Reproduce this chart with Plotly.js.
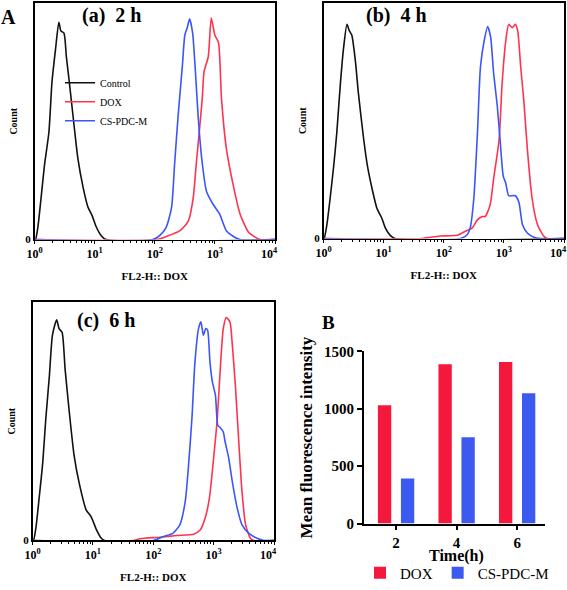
<!DOCTYPE html>
<html>
<head>
<meta charset="utf-8">
<script src="https://cdn.plot.ly/plotly-3.0.1.min.js"></script>
<style>html,body{margin:0;padding:0;background:#fff}#chart{width:567px;height:590px}</style>
</head>
<body>
<div id="chart"></div>
<script>
// ---- Flow cytometry histograms: x = log10(FL2-H), y = relative count ----
// Panel (a) 2 h
const aCtrlLog = [0, 0.017, 0.056, 0.11, 0.167, 0.24, 0.29, 0.35, 0.405, 0.44, 0.49, 0.53, 0.58, 0.67, 0.72, 0.81, 0.89, 0.96, 1.03, 1.11, 1.19, 4];
const aCtrlCnt = [0, 0, 5.7, 19.5, 34.8, 50, 73, 88.5, 101, 97, 96, 85, 73, 50, 38, 24, 15, 11, 5.7, 1.8, 0, 0];
const aDoxLog = [0, 2.03, 2.19, 2.42, 2.56, 2.64, 2.69, 2.75, 2.79, 2.82, 2.89, 2.94, 3.0, 3.06, 3.11, 3.19, 3.28, 3.42, 3.56, 3.69, 3.75, 4];
const aDoxCnt = [0, 0, 1.4, 4.1, 8.7, 19.5, 35, 53, 65.5, 78, 85, 103, 95, 91.6, 65.5, 42.5, 28.7, 11.8, 3.4, 0.8, 0, 0];
const aPdcLog = [0, 1.97, 2.08, 2.19, 2.28, 2.33, 2.39, 2.46, 2.5, 2.54, 2.58, 2.63, 2.67, 2.72, 2.78, 2.86, 2.97, 3.08, 3.19, 3.31, 3.42, 4];
const aPdcCnt = [0, 0, 1.8, 5.7, 15, 35, 58, 81, 95, 98.5, 102.6, 96, 81, 58, 38, 22.5, 16.4, 11.8, 4.1, 1.4, 0, 0];
// Panel (b) 4 h
const bCtrlLog = [0, 0.01, 0.056, 0.11, 0.17, 0.22, 0.28, 0.33, 0.39, 0.43, 0.47, 0.53, 0.58, 0.67, 0.73, 0.81, 0.89, 0.97, 1.03, 1.11, 1.19, 4];
const bCtrlCnt = [0, 0, 6.4, 18.7, 34, 49, 72, 88, 100, 97, 95, 83, 68, 46, 34, 23, 14, 9.5, 4.9, 1.5, 0, 0];
const bDoxLog = [0, 1.64, 1.78, 1.94, 2.22, 2.36, 2.47, 2.56, 2.64, 2.69, 2.77, 2.83, 2.92, 2.97, 3.03, 3.08, 3.14, 3.19, 3.23, 3.28, 3.33, 3.39, 3.47, 3.56, 3.67, 3.72, 4];
const bDoxCnt = [0, 0, 0.6, 1.2, 1.5, 3.4, 4.9, 8.7, 10.3, 10.3, 15.6, 28, 46, 72, 92, 100, 98.5, 100, 97, 80, 65, 42, 18.7, 6.4, 0.9, 0, 0];
const bPdcLog = [0, 2.28, 2.39, 2.44, 2.5, 2.56, 2.61, 2.67, 2.73, 2.78, 2.83, 2.89, 2.94, 2.99, 3.03, 3.08, 3.14, 3.19, 3.25, 3.31, 3.39, 3.5, 3.61, 4];
const bPdcCnt = [0, 0, 1.8, 4.9, 18.7, 49, 80, 92, 99, 94, 77, 62, 45, 29, 26, 20, 20, 20, 17, 6.4, 2.6, 0.6, 0, 0];
// Panel (c) 6 h
const cCtrlLog = [0, 0.017, 0.056, 0.11, 0.17, 0.22, 0.28, 0.33, 0.4, 0.44, 0.49, 0.54, 0.61, 0.69, 0.78, 0.89, 0.97, 1.06, 1.14, 1.19, 4];
const cCtrlCnt = [0, 0, 5.7, 19.5, 36, 56, 76, 94.6, 101.8, 97.7, 96, 79, 59, 39, 25.6, 14, 11, 4.9, 1, 0, 0];
const cDoxLog = [0, 1.67, 1.78, 2.11, 2.39, 2.67, 2.78, 2.86, 2.93, 3.0, 3.06, 3.11, 3.16, 3.21, 3.27, 3.31, 3.36, 3.42, 3.47, 3.53, 3.61, 3.67, 4];
const cDoxCnt = [0, 0, 0.8, 1.5, 2.3, 2.9, 4.9, 10.3, 19.5, 38, 56, 79, 97.7, 102.8, 100.8, 90, 71.6, 44, 22.5, 7.2, 1, 0, 0];
const cPdcLog = [0, 2.0, 2.17, 2.33, 2.44, 2.53, 2.58, 2.64, 2.69, 2.75, 2.79, 2.83, 2.87, 2.9, 2.94, 2.98, 3.03, 3.07, 3.11, 3.16, 3.19, 3.25, 3.31, 3.39, 3.47, 3.58, 3.72, 3.83, 4];
const cPdcCnt = [0, 0, 1.8, 3.4, 7.2, 18, 33, 56, 82, 97.7, 100.8, 94.6, 97.7, 97, 82, 73, 67, 53, 52, 50, 45.5, 38, 27, 15, 7.2, 3.4, 1, 0, 0];

// ---- Bar chart B ----
const timeCats = ['2', '4', '6'];
const mfiDox = [1032, 1388, 1408];
const mfiPdc = [394, 753, 1135];

const seriesNames = ['Control', 'DOX', 'CS-PDC-M'];
const decadeVals = [1, 10, 100, 1000, 10000];
const decadeText = ['10<sup>0</sup>', '10<sup>1</sup>', '10<sup>2</sup>', '10<sup>3</sup>', '10<sup>4</sup>\u00a0\u00a0\u00a0\u00a0'];

const BLACK = '#111111', RED = '#ff3350', BLUE = '#3a55ff';
const BAR_RED = '#f3183c', BAR_BLUE = '#3d5af0';
const SERIF = 'Liberation Serif';
const toLin = arr => arr.map(v => Math.pow(10, v));

const minorVals = [];
for (let d = 1; d < 10000; d *= 10) for (let k = 2; k <= 9; k++) minorVals.push(d * k);

function lineTrace(xl, y, name, color, xa, ya, show) {
  return {type: 'scatter', mode: 'lines', x: toLin(xl), y: y, name: name,
    line: {color: color, width: 1.6, shape: 'spline', smoothing: 0.6},
    xaxis: xa, yaxis: ya, showlegend: show, legend: 'legend', hoverinfo: 'skip'};
}

const traces = [
  lineTrace(aCtrlLog, aCtrlCnt, seriesNames[0], BLACK, 'x', 'y', true),
  lineTrace(aDoxLog, aDoxCnt, seriesNames[1], RED, 'x', 'y', true),
  lineTrace(aPdcLog, aPdcCnt, seriesNames[2], BLUE, 'x', 'y', true),
  lineTrace(bCtrlLog, bCtrlCnt, seriesNames[0], BLACK, 'x2', 'y2', false),
  lineTrace(bDoxLog, bDoxCnt, seriesNames[1], RED, 'x2', 'y2', false),
  lineTrace(bPdcLog, bPdcCnt, seriesNames[2], BLUE, 'x2', 'y2', false),
  lineTrace(cCtrlLog, cCtrlCnt, seriesNames[0], BLACK, 'x3', 'y3', false),
  lineTrace(cDoxLog, cDoxCnt, seriesNames[1], RED, 'x3', 'y3', false),
  lineTrace(cPdcLog, cPdcCnt, seriesNames[2], BLUE, 'x3', 'y3', false),
  {type: 'bar', x: timeCats, y: mfiDox, name: 'DOX', marker: {color: BAR_RED},
   width: 0.22, offset: -0.30, xaxis: 'x4', yaxis: 'y4', legend: 'legend2', hoverinfo: 'skip'},
  {type: 'bar', x: timeCats, y: mfiPdc, name: 'CS-PDC-M', marker: {color: BAR_BLUE},
   width: 0.22, offset: 0.08, xaxis: 'x4', yaxis: 'y4', legend: 'legend2', hoverinfo: 'skip'}
];

const W = 567, H = 590;
const px = v => v / W, py = v => 1 - v / H;

function histX(l, r, anchor) {
  return {domain: [px(l), px(r)], type: 'log', range: [0, 4], anchor: anchor,
    tickmode: 'array', tickvals: decadeVals, ticktext: decadeText, ticklabeloverflow: 'allow',
    tickfont: {family: SERIF, size: 12, color: '#000', weight: 'bold'},
    ticks: 'outside', ticklen: 3, tickwidth: 1, tickcolor: '#000',
    minor: {tickmode: 'array', tickvals: minorVals, ticks: 'outside', ticklen: 2, tickcolor: '#000', showgrid: false},
    showline: true, linecolor: '#000', linewidth: 1.5, mirror: true, showgrid: false, zeroline: false,
    title: {text: '<b>FL2-H:: DOX</b>', font: {family: SERIF, size: 11, color: '#000'}, standoff: 12}};
}
function histY(b, t, anchor) {
  return {domain: [py(b), py(t)], range: [0, 110], anchor: anchor,
    tickmode: 'array', tickvals: [0], ticktext: ['<b>0</b>'], ticks: '',
    tickfont: {family: SERIF, size: 11, color: '#000'},
    showline: true, linecolor: '#000', linewidth: 1.5, mirror: true, showgrid: false, zeroline: false,
    title: {text: '<b>Count</b>', font: {family: SERIF, size: 10, color: '#000'}, standoff: 6}};
}

const layout = {
  width: W, height: H, margin: {l: 0, r: 0, t: 0, b: 0},
  paper_bgcolor: '#fff', plot_bgcolor: '#fff',
  font: {family: SERIF, color: '#000'},
  xaxis: histX(34.5, 275, 'y'),
  yaxis: histY(242, 3, 'x'),
  xaxis2: histX(323.5, 564, 'y2'),
  yaxis2: histY(241, 3, 'x2'),
  xaxis3: histX(32.5, 274, 'y3'),
  yaxis3: histY(546, 305, 'x3'),
  xaxis4: {domain: [px(364), px(545)], anchor: 'y4', type: 'category', range: [-0.53, 2.46],
    showline: true, linecolor: '#000', linewidth: 2, ticks: 'outside', ticklen: 4, tickwidth: 2, tickcolor: '#000',
    tickfont: {family: SERIF, size: 15, color: '#000', weight: 'bold'}, showgrid: false, zeroline: false},
  yaxis4: {domain: [py(529), py(355)], anchor: 'x4', range: [0, 1500], tickvals: [0, 500, 1000, 1500],
    showline: true, linecolor: '#000', linewidth: 2, ticks: 'outside', ticklen: 5, tickwidth: 2, tickcolor: '#000',
    tickfont: {family: SERIF, size: 15, color: '#000', weight: 'bold'}, showgrid: false, zeroline: false,
    title: {text: '<b>Mean fluorescence intensity</b>', font: {family: SERIF, size: 17, color: '#000'}, standoff: 7}},
  legend: {x: px(60), y: py(69), xanchor: 'left', yanchor: 'top', bgcolor: 'rgba(0,0,0,0)',
    font: {family: SERIF, size: 10, color: '#000'}, itemwidth: 30, tracegroupgap: 0},
  legend2: {orientation: 'h', x: px(360), y: py(579), xanchor: 'left', yanchor: 'middle', bgcolor: 'rgba(0,0,0,0)',
    font: {family: SERIF, size: 15, color: '#000'}, itemwidth: 30},
  annotations: [
    {text: '<b>A</b>', x: px(8), y: py(17), xref: 'paper', yref: 'paper', xanchor: 'center', yanchor: 'middle', showarrow: false, font: {family: SERIF, size: 20, color: '#000'}},
    {text: '<b>B</b>', x: px(328), y: py(326), xref: 'paper', yref: 'paper', xanchor: 'center', yanchor: 'middle', showarrow: false, font: {family: SERIF, size: 19, color: '#000'}},
    {text: '<b>(a)\u00a0\u00a02 h</b>', x: px(111), y: py(16), xref: 'paper', yref: 'paper', xanchor: 'center', yanchor: 'middle', showarrow: false, font: {family: SERIF, size: 20, color: '#000'}},
    {text: '<b>(b)\u00a0\u00a04 h</b>', x: px(396), y: py(16), xref: 'paper', yref: 'paper', xanchor: 'center', yanchor: 'middle', showarrow: false, font: {family: SERIF, size: 20, color: '#000'}},
    {text: '<b>(c)\u00a0\u00a06 h</b>', x: px(106), y: py(324), xref: 'paper', yref: 'paper', xanchor: 'center', yanchor: 'middle', showarrow: false, font: {family: SERIF, size: 20, color: '#000'}},
    {text: '<b>Time(h)</b>', x: px(456), y: py(562), xref: 'paper', yref: 'paper', xanchor: 'center', yanchor: 'middle', showarrow: false, font: {family: SERIF, size: 16, color: '#000'}}
  ]
};

Plotly.newPlot('chart', traces, layout, {staticPlot: true, displayModeBar: false});
</script>
</body>
</html>
